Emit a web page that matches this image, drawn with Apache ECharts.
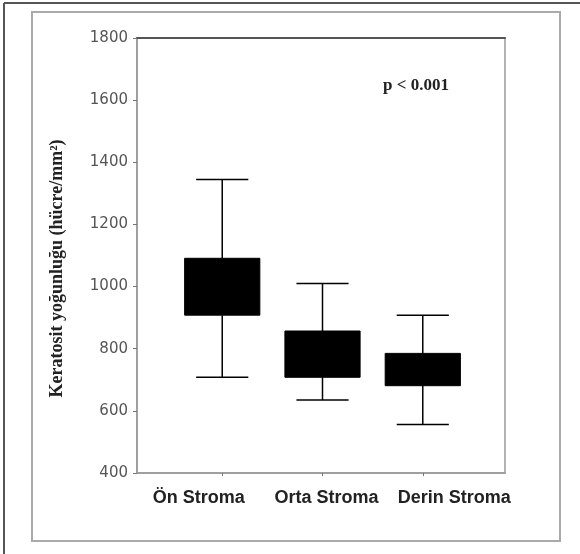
<!DOCTYPE html>
<html>
<head>
<meta charset="utf-8">
<script src="https://cdn.jsdelivr.net/npm/echarts@6/dist/echarts.min.js"></script>
<style>
  html, body { margin: 0; padding: 0; background: #fff; }
  #main { width: 580px; height: 554px; }
</style>
</head>
<body>
<div id="main"></div>
<script>
// kategoriler ve kutu grafiği değerleri
var categories = ['Ön Stroma', 'Orta Stroma', 'Derin Stroma'];
var positions = [1, 2, 3];
var whiskerLow = [708, 635, 556];
var boxLow = [908, 708, 681];
var boxHigh = [1091, 857, 785];
var whiskerHigh = [1345, 1010, 908];
var yTicks = [400, 600, 800, 1000, 1200, 1400, 1600, 1800];

var seriesData = positions.map(function (p, i) {
    return [p, whiskerLow[i], boxLow[i], boxHigh[i], whiskerHigh[i]];
});

var myChart = echarts.init(document.getElementById('main'));

var option = {
    backgroundColor: '#fff',
    animation: false,
    title: {
        text: 'p < 0.001',
        left: 378,
        top: 72,
        textStyle: {
            fontFamily: 'Liberation Serif',
            fontWeight: 'bold',
            fontSize: 17,
            color: '#222'
        }
    },
    graphic: [
        { type: 'rect', shape: { x: 32, y: 12, width: 528, height: 529 },
          style: { fill: 'none', stroke: '#aaa', lineWidth: 2 } },
        { type: 'line', shape: { x1: 4, y1: 3, x2: 4, y2: 554 },
          style: { stroke: '#555', lineWidth: 2 } },
        { type: 'line', shape: { x1: 4, y1: 3, x2: 580, y2: 3 },
          style: { stroke: '#555', lineWidth: 2 } }
    ],
    grid: [{
        left: 137,
        right: 75,
        top: 38,
        bottom: 81,
        show: true,
        borderColor: '#999',
        borderWidth: 1.5
    }, {
        // tik işaretleri için (bant merkezleri = kutu merkezleri)
        left: 172,
        right: 107,
        top: 38,
        bottom: 81
    }, {
        // kategori etiketleri, orijinaldeki gibi daha geniş aralıklı
        left: 135,
        right: 62,
        top: 38,
        bottom: 81
    }],
    xAxis: [{
        type: 'value',
        gridIndex: 0,
        min: 0.15,
        max: 3.82,
        splitLine: { show: false },
        axisLine: { show: true, lineStyle: { color: '#999', width: 1.5 } },
        axisTick: { show: false },
        axisLabel: { show: false }
    }, {
        type: 'value',
        gridIndex: 0,
        position: 'top',
        min: 0.15,
        max: 3.82,
        splitLine: { show: false },
        axisLine: { show: true, lineStyle: { color: '#555', width: 2 } },
        axisTick: { show: false },
        axisLabel: { show: false }
    }, {
        type: 'category',
        gridIndex: 1,
        data: categories,
        axisLine: { show: false },
        axisTick: { show: true, alignWithLabel: true, length: 3, lineStyle: { color: '#777' } },
        axisLabel: { show: false }
    }, {
        type: 'category',
        gridIndex: 2,
        data: categories,
        axisLine: { show: false },
        axisTick: { show: false },
        axisLabel: {
            interval: 0,
            margin: 16,
            fontFamily: 'Liberation Sans',
            fontWeight: 'bold',
            fontSize: 18,
            color: '#222'
        }
    }],
    yAxis: [{
        type: 'value',
        gridIndex: 0,
        min: 400,
        max: 1800,
        interval: 200,
        name: 'Keratosit yoğunluğu (hücre/mm²)',
        nameLocation: 'middle',
        nameGap: 71,
        nameTextStyle: {
            fontFamily: 'Liberation Serif',
            fontWeight: 'bold',
            fontSize: 18,
            color: '#222',
            padding: [0, 26, 0, 0]
        },
        splitLine: { show: false },
        axisLine: { show: true, lineStyle: { color: '#999', width: 1.5 } },
        axisTick: { show: true, length: 4, lineStyle: { color: '#777' } },
        axisLabel: {
            margin: 9,
            fontFamily: 'DejaVu Sans',
            fontSize: 15,
            color: '#555',
            formatter: function (v) {
                return yTicks.indexOf(v) >= 0 ? String(v) : '';
            }
        }
    }, {
        type: 'value',
        gridIndex: 1,
        min: 400,
        max: 1800,
        show: false
    }, {
        type: 'value',
        gridIndex: 2,
        min: 400,
        max: 1800,
        show: false
    }],
    series: [{
        type: 'custom',
        xAxisIndex: 0,
        yAxisIndex: 0,
        encode: { x: 0, y: [1, 2, 3, 4] },
        data: seriesData,
        renderItem: function (params, api) {
            var x = api.value(0);
            var pLow = api.coord([x, api.value(1)]);
            var pBoxLow = api.coord([x, api.value(2)]);
            var pBoxHigh = api.coord([x, api.value(3)]);
            var pHigh = api.coord([x, api.value(4)]);
            var boxW = api.size([0.75, 0])[0];
            var capW = api.size([0.52, 0])[0];
            var cx = pLow[0];
            var lineStyle = { stroke: '#000', lineWidth: 1.5 };
            return {
                type: 'group',
                children: [
                    { type: 'line', shape: { x1: cx, y1: pHigh[1], x2: cx, y2: pBoxHigh[1] }, style: lineStyle },
                    { type: 'line', shape: { x1: cx, y1: pBoxLow[1], x2: cx, y2: pLow[1] }, style: lineStyle },
                    { type: 'line', shape: { x1: cx - capW / 2, y1: pHigh[1], x2: cx + capW / 2, y2: pHigh[1] }, style: lineStyle },
                    { type: 'line', shape: { x1: cx - capW / 2, y1: pLow[1], x2: cx + capW / 2, y2: pLow[1] }, style: lineStyle },
                    { type: 'rect', shape: { x: cx - boxW / 2, y: pBoxHigh[1], width: boxW, height: pBoxLow[1] - pBoxHigh[1] },
                      style: { fill: '#000', stroke: '#000', lineWidth: 1 } }
                ]
            };
        }
    }]
};

myChart.setOption(option);
</script>
</body>
</html>
